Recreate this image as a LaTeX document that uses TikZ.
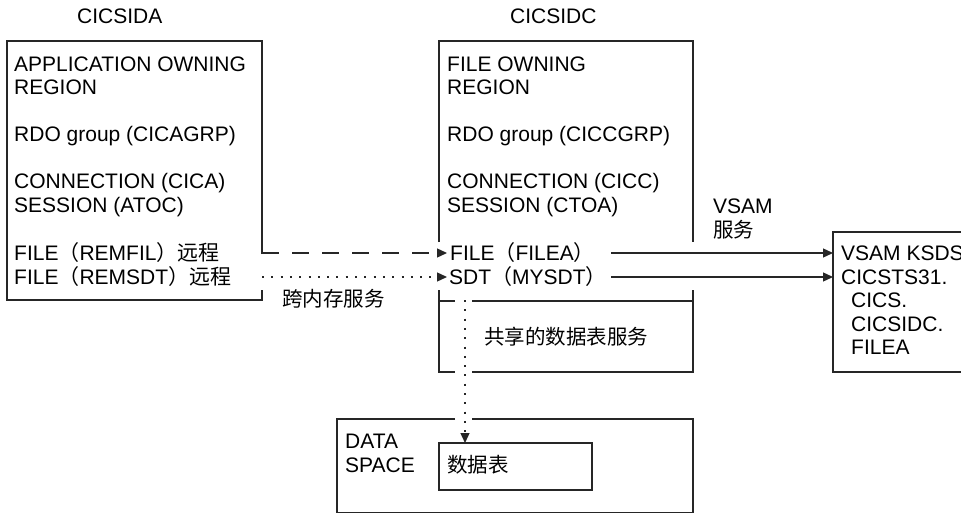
\documentclass[tikz,border=0pt]{standalone}
\usepackage{fontspec}
\setmainfont{Liberation Sans}
\newfontfamily\cjk{Noto Sans CJK SC}
\usetikzlibrary{arrows.meta}
\newcommand{\zhp}[1]{{\cjk #1}}
\begin{document}
\begin{tikzpicture}[x=1pt,y=-1pt,
  txt/.style={anchor=base west,inner sep=0pt,font=\fontsize{21}{23.5}\selectfont},
  zh/.style={anchor=base west,inner sep=0pt,font=\fontsize{20.5}{23.5}\selectfont\cjk},
  frame/.style={line width=1.3pt,draw=black!85},
  conn/.style={line width=1.3pt,draw=black!85,-{Triangle[length=10pt,width=9pt]}},
  dashedconn/.style={conn,dash pattern=on 17pt off 13pt},
  dottedconn/.style={conn,dash pattern=on 2pt off 7.3pt},
]
\useasboundingbox (0,0) rectangle (961,514);
\clip (0,0) rectangle (961,514);

% ---- frames ----
% CICSIDA box
\draw[frame] (262,254) -- (262,41) -- (7,41) -- (7,300) -- (262,300) -- (262,290);
% CICSIDC box
\draw[frame] (439,242) -- (439,41) -- (693,41) -- (693,242);
\draw[frame] (439,290) -- (439,372) -- (455,372);
\draw[frame] (472,372) -- (693,372) -- (693,290);
\draw[frame] (439,301) -- (455,301);
\draw[frame] (472,301) -- (693,301);
% DATA SPACE box
\draw[frame] (455,419) -- (337,419) -- (337,512.5) -- (693,512.5) -- (693,419) -- (472,419);
\draw[frame] (439,443) rectangle (592,490);
% VSAM KSDS box
\draw[frame] (975,232) -- (833,232) -- (833,372) -- (975,372);

% ---- titles ----
\node[txt] (titleA) at (77,23.5) {CICSIDA};
\node[txt] (titleC) at (510,23.5) {CICSIDC};

% ---- CICSIDA texts ----
\node[txt] (a1) at (14,71) {APPLICATION OWNING};
\node[txt] (a2) at (14,94.5) {REGION};
\node[txt] (a3) at (14,141.5) {RDO group (CICAGRP)};
\node[txt] (a4) at (14,188.5) {CONNECTION (CICA)};
\node[txt] (a5) at (14,212) {SESSION (ATOC)};
\node[txt] (a6) at (14,260.5) {FILE\zhp{（}REMFIL\zhp{）远程}};
\node[txt] (a7) at (14,284) {FILE\zhp{（}REMSDT\zhp{）远程}};

% ---- CICSIDC texts ----
\node[txt] (c1) at (447,71) {FILE OWNING};
\node[txt] (c2) at (447,94.5) {REGION};
\node[txt] (c3) at (447,141.5) {RDO group (CICCGRP)};
\node[txt] (c4) at (447,188.5) {CONNECTION (CICC)};
\node[txt] (c5) at (447,212) {SESSION (CTOA)};
\node[txt] (c6) at (450,260.5) {FILE\zhp{（}FILEA\zhp{）}};
\node[txt] (c7) at (449,284) {SDT\zhp{（}MYSDT\zhp{）}};
\node[zh] (shared) at (484,344.5) {共享的数据表服务};

% ---- labels ----
\node[zh] (cross) at (282,306.5) {跨内存服务};
\node[txt] (vsam1) at (713,213) {VSAM};
\node[zh] (vsam2) at (713,237.5) {服务};

% ---- VSAM KSDS texts ----
\node[txt] (k1) at (841,260.5) {VSAM KSDS};
\node[txt] (k2) at (841,284) {CICSTS31.};
\node[txt] (k3) at (851,307.5) {CICS.};
\node[txt] (k4) at (851,331) {CICSIDC.};
\node[txt] (k5) at (851,354.5) {FILEA};

% ---- DATA SPACE texts ----
\node[txt] (d1) at (345,448) {DATA};
\node[txt] (d2) at (345,472.5) {SPACE};
\node[zh] (table) at (447,472) {数据表};

% ---- connectors ----
\coordinate (aOut1) at (262,253);
\coordinate (aOut2) at (262,277);
\coordinate (cIn1) at (447,253);
\coordinate (cIn2) at (447,277);
\coordinate (cOut1) at (611,253);
\coordinate (cOut2) at (611,277);
\coordinate (kIn1) at (833,253);
\coordinate (kIn2) at (833,277);
\coordinate (sdtDown) at (465,300);
\coordinate (tblTop) at (465,443);

\draw[dashedconn] (aOut1) -- (cIn1);
\draw[dottedconn] (aOut2) -- (cIn2);
\draw[conn] (cOut1) -- (kIn1);
\draw[conn] (cOut2) -- (kIn2);
\draw[dottedconn] (sdtDown) -- (tblTop);
\end{tikzpicture}
\end{document}
